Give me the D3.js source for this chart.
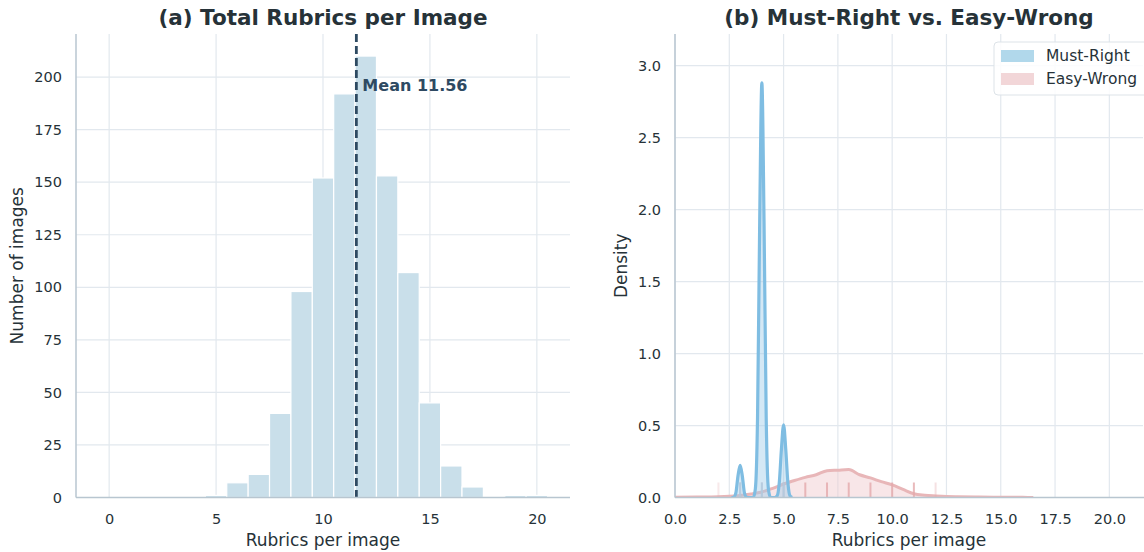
<!DOCTYPE html>
<html>
<head>
<meta charset="utf-8">
<script src="https://cdn.jsdelivr.net/npm/d3@7"></script>
<style>
  html, body { margin: 0; padding: 0; background: #ffffff; }
  svg { display: block; font-family: "DejaVu Sans", sans-serif; }
</style>
</head>
<body>
<svg id="chart" width="1144" height="552"></svg>
<script>
// ---------- Data ----------
const histBins = [0,1,2,3,4,5,6,7,8,9,10,11,12,13,14,15,16,17,18,19,20];
const histCounts = [0,0,0,0,0,1,7,11,40,98,152,192,210,153,107,45,15,5,0,1,1];
const meanValue = 11.56;
const histXTicks = [0,5,10,15,20];
const histYTicks = [0,25,50,75,100,125,150,175,200];

// Must-Right density
const mustRightX = [2.6,2.7,2.8,2.9,3.0,3.1,3.2,3.3,3.4,3.5,3.6,3.7,3.8,3.9,4.0,4.1,4.2,4.3,4.4,4.5,4.6,4.7,4.8,4.9,5.0,5.1,5.2,5.3,5.4];
const mustRightY = [0,0.002,0.03,0.15,0.223,0.15,0.03,0.002,0,0,0,0.06,0.55,1.92,2.88,1.92,0.55,0.06,0,0,0,0.01,0.1,0.335,0.505,0.335,0.1,0.01,0];

// Easy-Wrong density
const easyWrongX = [0,1,2,2.5,3,3.5,4,4.5,5,5.5,6,6.5,7,7.5,8,8.5,9,9.5,10,10.5,11,11.5,12,12.5,13,14,15,16,16.5];
const easyWrongY = [0.002,0.003,0.005,0.008,0.014,0.024,0.038,0.064,0.094,0.118,0.14,0.158,0.186,0.19,0.194,0.158,0.136,0.11,0.088,0.056,0.026,0.016,0.011,0.007,0.005,0.003,0.002,0.001,0.0005];

// Rug values
const easyWrongRug = [2,3,4,5,6,7,8,9,10,11,12];
const easyWrongRugAlpha = [0.25,0.8,0.8,0.8,0.8,0.8,0.8,0.8,0.8,0.8,0.35];
const mustRightRug = [3,4,5];

const densXTicks = [0,2.5,5,7.5,10,12.5,15,17.5,20];
const densYTicks = [0,0.5,1,1.5,2,2.5,3];

const legendLabels = ["Must-Right","Easy-Wrong"];

// ---------- Styles ----------
const gridColor = "#e2e8ee";
const spineColor = "#b8c6d0";
const textColor = "#263238";
const barColor = "#c9dfea";
const meanColor = "#2e4a62";
const blueLine = "#7fbde2";
const blueFill = "rgba(160,205,232,0.45)";
const pinkLine = "#e8b6b8";
const pinkFill = "rgba(240,200,204,0.45)";
const tickFont = 14.5;
const labelFont = 17;
const titleFont = 21.5;

const svg = d3.select("#chart");

// ---------- Panel (a) ----------
const A = {left: 76, right: 570, top: 34, bottom: 497.5};
const xA = d3.scaleLinear().domain([-1.55, 21.55]).range([A.left, A.right]);
const yA = d3.scaleLinear().domain([0, 220.5]).range([A.bottom, A.top]);

const gA = svg.append("g");
// grid
gA.append("g").selectAll("line").data(histXTicks).join("line")
  .attr("x1", d => xA(d)).attr("x2", d => xA(d))
  .attr("y1", A.top).attr("y2", A.bottom)
  .attr("stroke", gridColor).attr("stroke-width", 1.2);
gA.append("g").selectAll("line").data(histYTicks).join("line")
  .attr("x1", A.left).attr("x2", A.right)
  .attr("y1", d => yA(d)).attr("y2", d => yA(d))
  .attr("stroke", gridColor).attr("stroke-width", 1.2);

// bars
gA.append("g").selectAll("rect").data(histBins.map((b,i)=>({b, c: histCounts[i]})).filter(d => d.c > 0)).join("rect")
  .attr("x", d => xA(d.b - 0.5))
  .attr("width", d => xA(d.b + 0.5) - xA(d.b - 0.5))
  .attr("y", d => yA(d.c))
  .attr("height", d => yA(0) - yA(d.c))
  .attr("fill", barColor)
  .attr("stroke", "#ffffff").attr("stroke-width", 1.2);

// mean line
gA.append("line")
  .attr("x1", xA(meanValue)).attr("x2", xA(meanValue))
  .attr("y1", A.top).attr("y2", A.bottom)
  .attr("stroke", meanColor).attr("stroke-width", 2.8)
  .attr("stroke-dasharray", "8,4");
gA.append("text")
  .attr("x", xA(meanValue) + 6).attr("y", 91)
  .attr("fill", meanColor).attr("font-size", 16).attr("font-weight", "bold")
  .text("Mean " + meanValue.toFixed(2));

// spines
gA.append("line").attr("x1", A.left).attr("x2", A.left).attr("y1", A.top).attr("y2", A.bottom)
  .attr("stroke", spineColor).attr("stroke-width", 1.5);
gA.append("line").attr("x1", A.left).attr("x2", A.right).attr("y1", A.bottom).attr("y2", A.bottom)
  .attr("stroke", spineColor).attr("stroke-width", 1.5);

// axes
const axA_x = d3.axisBottom(xA).tickValues(histXTicks).tickSize(0).tickPadding(0).tickFormat(d3.format("d"));
gA.append("g").attr("transform", `translate(0,${A.bottom})`).call(axA_x)
  .call(g => g.select(".domain").remove())
  .selectAll("text").attr("font-size", tickFont).attr("fill", textColor).attr("font-family", "DejaVu Sans")
  .attr("dy", "0").attr("y", 26);
const axA_y = d3.axisLeft(yA).tickValues(histYTicks).tickSize(0).tickPadding(0).tickFormat(d3.format("d"));
gA.append("g").attr("transform", `translate(${A.left - 14},0)`).call(axA_y)
  .call(g => g.select(".domain").remove())
  .selectAll("text").attr("font-size", tickFont).attr("fill", textColor).attr("font-family", "DejaVu Sans");

gA.append("text").attr("x", (A.left + A.right)/2).attr("y", 546)
  .attr("text-anchor", "middle").attr("font-size", labelFont).attr("fill", textColor).text("Rubrics per image");
gA.append("text").attr("transform", `translate(23,${(A.top + A.bottom)/2}) rotate(-90)`)
  .attr("text-anchor", "middle").attr("font-size", labelFont).attr("fill", textColor).text("Number of images");
gA.append("text").attr("x", (A.left + A.right)/2).attr("y", 25)
  .attr("text-anchor", "middle").attr("font-size", titleFont).attr("font-weight", "bold").attr("fill", textColor)
  .text("(a) Total Rubrics per Image");

// ---------- Panel (b) ----------
const B = {left: 675, right: 1143, top: 34, bottom: 497.5};
const xB = d3.scaleLinear().domain([0, 21.55]).range([B.left, B.right]);
const yB = d3.scaleLinear().domain([0, 3.22]).range([B.bottom, B.top]);

const gB = svg.append("g");
const clip = svg.append("defs").append("clipPath").attr("id", "clipB");
clip.append("rect").attr("x", B.left).attr("y", B.top - 5).attr("width", B.right - B.left).attr("height", B.bottom - B.top + 5);

gB.append("g").selectAll("line").data(densXTicks).join("line")
  .attr("x1", d => xB(d)).attr("x2", d => xB(d))
  .attr("y1", B.top).attr("y2", B.bottom)
  .attr("stroke", gridColor).attr("stroke-width", 1.2);
gB.append("g").selectAll("line").data(densYTicks).join("line")
  .attr("x1", B.left).attr("x2", B.right)
  .attr("y1", d => yB(d)).attr("y2", d => yB(d))
  .attr("stroke", gridColor).attr("stroke-width", 1.2);

const plotB = gB.append("g").attr("clip-path", "url(#clipB)");

const ewData = easyWrongX.map((x,i)=>({x, y: easyWrongY[i]}));
const mrData = mustRightX.map((x,i)=>({x, y: mustRightY[i]}));

const areaB = d3.area().x(d => xB(d.x)).y0(yB(0)).y1(d => yB(d.y)).curve(d3.curveMonotoneX);
const lineB = d3.line().x(d => xB(d.x)).y(d => yB(d.y)).curve(d3.curveMonotoneX);

plotB.append("path").datum(ewData).attr("d", areaB).attr("fill", pinkFill);
plotB.append("path").datum(ewData).attr("d", lineB).attr("fill", "none")
  .attr("stroke", pinkLine).attr("stroke-width", 3).attr("stroke-linejoin", "round");

// rug
plotB.append("g").selectAll("line").data(easyWrongRug.map((v,i)=>({v, a: easyWrongRugAlpha[i]}))).join("line")
  .attr("x1", d => xB(d.v)).attr("x2", d => xB(d.v))
  .attr("y1", B.bottom).attr("y2", B.bottom - 15)
  .attr("stroke", "#e3a9ab").attr("stroke-opacity", d => d.a).attr("stroke-width", 2);

plotB.append("path").datum(mrData).attr("d", areaB).attr("fill", blueFill);
plotB.append("path").datum(mrData).attr("d", lineB).attr("fill", "none")
  .attr("stroke", blueLine).attr("stroke-width", 3.2).attr("stroke-linejoin", "round");

plotB.append("g").selectAll("line").data(mustRightRug).join("line")
  .attr("x1", d => xB(d)).attr("x2", d => xB(d))
  .attr("y1", B.bottom).attr("y2", B.bottom - 15)
  .attr("stroke", "#a9d2ea").attr("stroke-opacity", 0.6).attr("stroke-width", 2);

// spines
gB.append("line").attr("x1", B.left).attr("x2", B.left).attr("y1", B.top).attr("y2", B.bottom)
  .attr("stroke", spineColor).attr("stroke-width", 1.5);
gB.append("line").attr("x1", B.left).attr("x2", B.right + 2).attr("y1", B.bottom).attr("y2", B.bottom)
  .attr("stroke", spineColor).attr("stroke-width", 1.5);

const axB_x = d3.axisBottom(xB).tickValues(densXTicks).tickSize(0).tickPadding(0).tickFormat(d3.format(".1f"));
gB.append("g").attr("transform", `translate(0,${B.bottom})`).call(axB_x)
  .call(g => g.select(".domain").remove())
  .selectAll("text").attr("font-size", tickFont).attr("fill", textColor).attr("font-family", "DejaVu Sans")
  .attr("dy", "0").attr("y", 26);
const axB_y = d3.axisLeft(yB).tickValues(densYTicks).tickSize(0).tickPadding(0).tickFormat(d3.format(".1f"));
gB.append("g").attr("transform", `translate(${B.left - 14},0)`).call(axB_y)
  .call(g => g.select(".domain").remove())
  .selectAll("text").attr("font-size", tickFont).attr("fill", textColor).attr("font-family", "DejaVu Sans");

gB.append("text").attr("x", (B.left + B.right)/2).attr("y", 546)
  .attr("text-anchor", "middle").attr("font-size", labelFont).attr("fill", textColor).text("Rubrics per image");
gB.append("text").attr("transform", `translate(627,${(B.top + B.bottom)/2}) rotate(-90)`)
  .attr("text-anchor", "middle").attr("font-size", labelFont).attr("fill", textColor).text("Density");
gB.append("text").attr("x", (B.left + B.right)/2).attr("y", 25)
  .attr("text-anchor", "middle").attr("font-size", titleFont).attr("font-weight", "bold").attr("fill", textColor)
  .text("(b) Must-Right vs. Easy-Wrong");

// legend
const lg = gB.append("g").attr("transform", "translate(994,42)");
lg.append("rect").attr("x", 0).attr("y", 0).attr("width", 154).attr("height", 53).attr("rx", 4)
  .attr("fill", "rgba(255,255,255,0.85)").attr("stroke", "#dde3e8").attr("stroke-width", 1);
const lgColors = ["#b1d8eb", "#f2d6d8"];
legendLabels.forEach((lab, i) => {
  lg.append("rect").attr("x", 7).attr("y", 8 + i*23).attr("width", 33).attr("height", 12).attr("fill", lgColors[i]);
  lg.append("text").attr("x", 52).attr("y", 19 + i*23).attr("font-size", 15.5).attr("fill", textColor).text(lab);
});
</script>
</body>
</html>
